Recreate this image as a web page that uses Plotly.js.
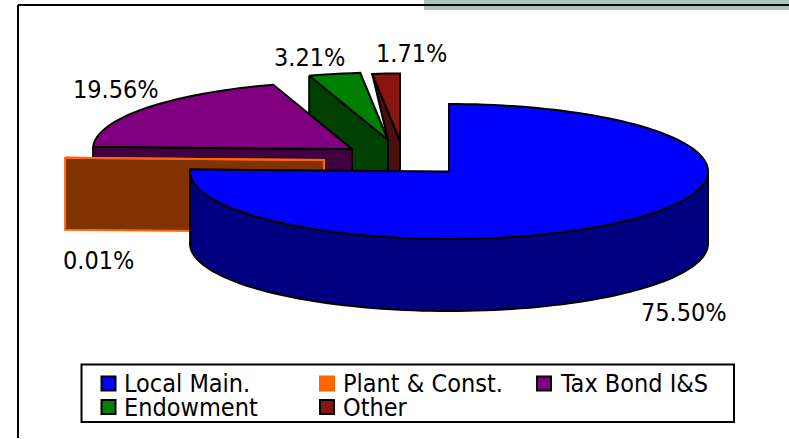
<!DOCTYPE html>
<html>
<head>
<meta charset="utf-8">
<script src="https://cdn.plot.ly/plotly-3.0.1.min.js"></script>
<style>html,body{margin:0;padding:0;background:#fff}#chart{width:789px;height:439px}</style>
</head>
<body>
<div id="chart"></div>
<script>
// Revenue shares by fund, in percent
const categories = ['Local Main.', 'Plant & Const.', 'Tax Bond I&S', 'Endowment', 'Other'];
const shares = [75.50, 0.01, 19.56, 3.21, 1.71];

// Slice colours
const topColors = ['#0000ff', '#ff6600', '#800080', '#008000', '#8a1410'];
const sideColors = ['#000080', '#803300', '#400040', '#004000', '#4a0f0e'];
const edgeColors = ['#000000', '#ff6600', '#000000', '#000000', '#000000'];

// Tilted-disc geometry: each slice is pulled out to its own centre
const RX = 259, RY = 67.5, DEPTH = 72;
const centres = [[449, 171.5], [324, 160], [352, 149], [388, 140], [400, 141]];
const FONT = 'DejaVu Sans Condensed, DejaVu Sans, sans-serif';

const total = shares.reduce((a, b) => a + b, 0);
const pt = (c, deg, drop = 0) => {
  const t = deg * Math.PI / 180;
  return [c[0] + RX * Math.sin(t), c[1] - RY * Math.cos(t) + drop];
};
const arc = (c, from, to, drop = 0) => {
  const n = Math.max(2, Math.ceil(Math.abs(to - from) / 2));
  const out = [];
  for (let i = 0; i <= n; i++) out.push(pt(c, from + (to - from) * i / n, drop));
  return out;
};
const poly = (pts, fill, line, width = 2) => ({
  type: 'scatter', mode: 'lines', fill: 'toself', fillcolor: fill,
  x: pts.map(p => p[0]), y: pts.map(p => p[1]),
  line: { color: line, width, simplify: false }, hoverinfo: 'skip', showlegend: false
});

// Slice angles, clockwise from twelve o'clock
const spans = [];
let run = 0;
shares.forEach(v => { const a = run; run += v / total * 360; spans.push([a, run]); });

const traces = [];
const drop = (p, d = DEPTH) => [p[0], p[1] + d];

// Painter's order: farthest slice first, the main slice last
[4, 3, 2, 1, 0].forEach(i => {
  const c = centres[i], [a, b] = spans[i];
  const line = edgeColors[i];
  if (i === 0) {
    // Main slice shows its curved rim
    const rimTop = arc(c, 90, b);
    const rimBottom = arc(c, b, 90, DEPTH);
    traces.push(poly(rimTop.concat(rimBottom, [rimTop[0]]), sideColors[i], line));
  } else {
    // Exposed radial wall on the leading edge of the slice
    const outer = pt(c, a);
    let wall = [outer, c, drop(c), drop(outer), outer];
    if (i === 4) {
      // The neighbouring slice hides everything left of its own tip
      const n = centres[3];
      wall = [outer, c, drop(c), drop(n), n, outer];
    }
    traces.push(poly(wall, sideColors[i], line));
  }
  const rim = arc(c, a, b);
  const top = [c].concat(rim, [c]);
  traces.push(poly(top, i === 1 ? sideColors[i] : topColors[i], line));
});

// Legend swatches, laid out in three columns
const legendCols = [108.5, 327, 544];
const legendRows = [383.5, 407];
const slot = i => [legendCols[i % 3], legendRows[Math.floor(i / 3)]];
categories.forEach((name, i) => {
  const s = slot(i);
  traces.push({
    type: 'scatter', mode: 'markers', name, x: [s[0]], y: [s[1]], showlegend: false, hoverinfo: 'name',
    marker: { symbol: 'square', size: 14, color: topColors[i], line: { color: edgeColors[i], width: 2 } }
  });
});

const legendText = categories.map((name, i) => {
  const s = slot(i);
  return {
    text: name, x: s[0] + 14.5, y: s[1], xref: 'x', yref: 'y', xanchor: 'left', yanchor: 'middle',
    showarrow: false, borderpad: 0, font: { family: FONT, size: 25, color: '#000' }
  };
});

// Percentage labels beside the slices
const labelAt = [[684, 312], [98.5, 260], [116, 89], [309.5, 57], [411, 53]];
const valueText = shares.map((v, i) => ({
  text: v.toFixed(2) + '%', x: labelAt[i][0], y: labelAt[i][1], xref: 'x', yref: 'y',
  xanchor: 'center', yanchor: 'middle', showarrow: false,
  font: { family: FONT, size: 25, color: '#000' }
}));

const layout = {
  width: 789, height: 439, margin: { l: 0, r: 0, t: 0, b: 0 },
  paper_bgcolor: '#fff', plot_bgcolor: '#fff', showlegend: false,
  xaxis: { range: [0, 789], visible: false, fixedrange: true },
  yaxis: { range: [439, 0], visible: false, fixedrange: true },
  shapes: [
    { type: 'rect', xref: 'x', yref: 'y', x0: 424, x1: 789, y0: 0, y1: 10, fillcolor: '#a3c7b8', line: { width: 0 }, layer: 'below' },
    { type: 'line', xref: 'x', yref: 'y', x0: 18, x1: 789, y0: 5, y1: 5, line: { color: '#000', width: 2 }, layer: 'below' },
    { type: 'line', xref: 'x', yref: 'y', x0: 18, x1: 18, y0: 5, y1: 438, line: { color: '#000', width: 2 }, layer: 'below' },
    { type: 'rect', xref: 'x', yref: 'y', x0: 81.5, x1: 734, y0: 364.5, y1: 422, fillcolor: '#fff', line: { color: '#000', width: 2 }, layer: 'below' }
  ],
  annotations: valueText.concat(legendText)
};

Plotly.newPlot('chart', traces, layout, { displayModeBar: false });
</script>
</body>
</html>
